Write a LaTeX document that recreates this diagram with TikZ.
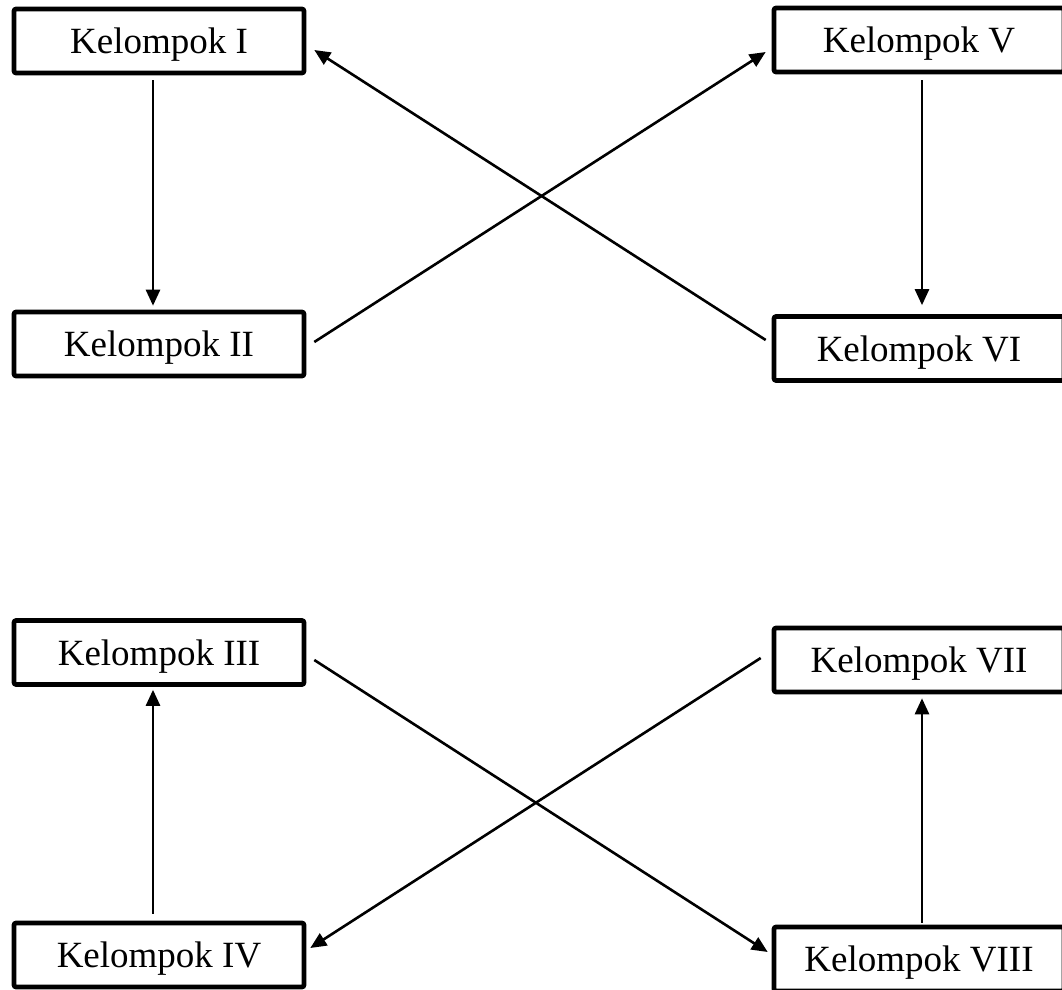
\documentclass[tikz,border=0pt]{standalone}
\usepackage{fontspec}
\setmainfont{Liberation Serif}
\usetikzlibrary{arrows.meta}

\begin{document}
\begin{tikzpicture}[x=0.5pt,y=-0.5pt,
    kotak/.style={draw, line width=2.3pt, rounded corners=1pt, minimum width=145pt,
        minimum height=32pt, inner sep=0pt, text depth=0pt,
        font=\fontsize{18.5}{22}\selectfont},
    panah/.style={line width=1.3pt, -{Triangle[length=8pt,width=7pt]}}]
    \useasboundingbox (0,0) rectangle (1062,990);

    % kelompok kiri
    \node[kotak] (k1) at (159,41) {Kelompok I};
    \node[kotak] (k2) at (159,344) {Kelompok II};
    \node[kotak] (k3) at (159,652.5) {Kelompok III};
    \node[kotak] (k4) at (159,955) {Kelompok IV};
    % kelompok kanan
    \node[kotak] (k5) at (919,40) {Kelompok V};
    \node[kotak] (k6) at (919,348.5) {Kelompok VI};
    \node[kotak] (k7) at (919,660) {Kelompok VII};
    \node[kotak] (k8) at (919,959) {Kelompok VIII};

    % atas
    \draw[panah] ([shift={(-6,5)}]k1.south) -- ([shift={(-6,-4)}]k2.north);
    \draw[panah] ([shift={(3,6)}]k5.south) -- ([shift={(3,-9)}]k6.north);
    \draw[panah] ([shift={(-6,-8.5)}]k6.west) -- ([shift={(8,9)}]k1.east);
    \draw[panah] ([shift={(8,-2)}]k2.east) -- ([shift={(-6,12)}]k5.west);

    % bawah
    \draw[panah] ([shift={(-6,-7)}]k4.north) -- ([shift={(-6,3)}]k3.south);
    \draw[panah] ([shift={(3,-2)}]k8.north) -- ([shift={(3,4)}]k7.south);
    \draw[panah] ([shift={(8,7.5)}]k3.east) -- ([shift={(-4,-7)}]k8.west);
    \draw[panah] ([shift={(-11,-2)}]k7.west) -- ([shift={(4,-7)}]k4.east);

\end{tikzpicture}
\end{document}
